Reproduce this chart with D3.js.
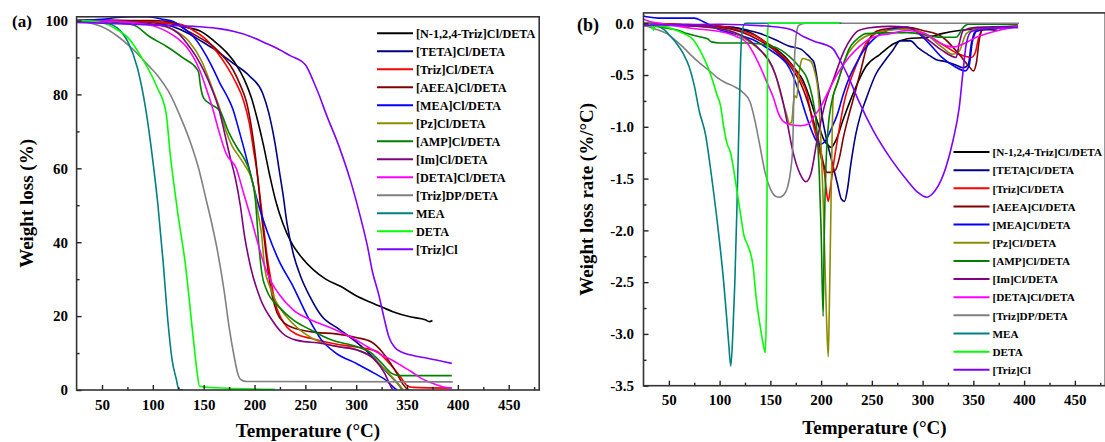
<!DOCTYPE html>
<html>
<head>
<meta charset="utf-8">
<script src="https://cdn.jsdelivr.net/npm/d3@7"></script>
<style>
    body { margin: 0; background: #fff; }
    text { font-family: "Liberation Serif", "Times New Roman", serif; font-weight: bold; fill: #000; }
</style>
</head>
<body>
<svg id="canvas" width="1105" height="442"></svg>
<script>
// Legend names, in drawing order.
const SERIES = ["[N-1,2,4-Triz]Cl/DETA", "[TETA]Cl/DETA", "[Triz]Cl/DETA", "[AEEA]Cl/DETA",
    "[MEA]Cl/DETA", "[Pz]Cl/DETA", "[AMP]Cl/DETA", "[Im]Cl/DETA", "[DETA]Cl/DETA",
    "[Triz]DP/DETA", "MEA", "DETA", "[Triz]Cl"];

// Tick values.
const X_TICKS = [50, 100, 150, 200, 250, 300, 350, 400, 450];
const X_MINOR = [75, 125, 175, 225, 275, 325, 375, 425, 475];
const TGA_TICKS = [0, 20, 40, 60, 80, 100];
const TGA_MINOR = [10, 30, 50, 70, 90];
const DTG_TICKS = [0, -0.5, -1, -1.5, -2, -2.5, -3, -3.5];
const DTG_MINOR = [-0.25, -0.75, -1.25, -1.75, -2.25, -2.75, -3.25];

// (a) weight loss (%) vs temperature, [T, %].
const tgaNTriz = [[25,100],[60,100],[100,99.6],[120,99],[135,98],[146,97.2],[160,94.5],[172,91.5],[182,88],[190,84],[197,79],[203,73],[209,66],[215,58],[221,51],[228,45],[236,40],[246,36],[258,32.5],[270,30],[285,28],[300,25.5],[318,23.3],[336,21.2],[353,19.8],[368,19],[372,18.5],[375,18.8]];
const tgaTeta = [[25,100],[60,100],[100,99.4],[120,98.3],[135,96.5],[146,94.7],[160,92.3],[179,88.4],[195,85],[208,80.3],[214,75],[220,67],[224,60],[228,53],[232,45],[238,37],[245,31],[255,25],[266,20],[283,16.5],[300,13],[318,8.5],[333,4],[340,2],[345,0.2]];
const tgaTriz = [[25,100],[60,100],[100,99.6],[127,99],[140,97.3],[153,94.7],[163,91.5],[173,87.5],[182,83],[189,78.5],[195,72],[199,65],[203,58],[206,51],[209,44],[212,37],[216,30],[220,24],[226,19.5],[232,17],[242,15],[255,14],[270,13],[290,12],[310,11.2],[320,10.5],[330,8],[338,5.5],[345,3],[350,1.2],[356,0.7],[394,0.5]];
const tgaAeea = [[25,100],[60,100],[100,100],[120,99.5],[133,97.4],[145,95.5],[160,92.9],[170,90],[179,86.6],[186,82.5],[192,78],[197,71],[201,63],[204,55],[207,47],[210,40],[213,33],[217,26],[222,21],[230,18],[242,16.5],[260,15.6],[280,15.2],[300,14.2],[315,13],[325,10.5],[333,7.5],[340,4.5],[345,2],[350,0.3],[352,0]];
const tgaMea = [[25,100],[50,100.3],[65,100.8],[80,101],[95,101],[110,100.3],[120,99.7],[130,97.9],[140,95.6],[147,93],[153,90.2],[160,86.5],[166,83],[173,79.5],[179,75.8],[184,71],[189,66],[196,58.5],[203,51],[213,42.5],[224,35],[238,28],[252,20],[266,13.5],[280,10],[300,7.2],[318,4.5],[330,2.5],[336,0.9],[340,0]];
const tgaPz = [[25,100],[60,99.8],[100,99],[120,97.5],[135,94.5],[148,89],[158,82],[166,76],[172,70],[178,66],[184,63.5],[190,61],[196,58],[200,54],[204,47],[207,42],[210,33],[215,28],[221,24],[231,20],[248,15.5],[266,12.8],[283,11.7],[301,10.8],[318,8.3],[332,4.5],[340,2],[346,0.2]];
const tgaAmp = [[25,100],[50,99.8],[65,99.4],[81,98.8],[97,95.6],[114,92.9],[130,89.8],[143,87],[145,86],[147,82],[150,79],[156,77.5],[166,75.5],[175,69.5],[183,65.5],[189,63],[196,58.5],[201,51],[204,40],[207,32],[212,27],[224,22.5],[238,19],[255,16.3],[276,13.5],[301,11.7],[315,10],[325,7.3],[335,4.5],[342,3.9],[394,3.9]];
const tgaIm = [[25,100],[60,99.8],[100,99],[114,98.3],[125,96.5],[133,94],[142,90.5],[150,86.5],[158,81.5],[165,76],[171,69],[176,63],[181,57.5],[186,50],[190,42],[196,33.5],[206,24.5],[217,19],[227,15.5],[241,13.5],[266,12.6],[283,11.7],[301,10.8],[318,8.3],[328,4.5],[334,1],[336,0]];
const tgaDeta = [[25,100],[60,99.8],[97,98.8],[114,97],[125,95],[133,92.9],[140,90],[146,86.6],[152,82],[159,76],[165,70],[172,64],[182,60],[189,53.5],[196,47],[203,40],[210,33.5],[217,29],[224,26],[238,21.7],[255,19],[276,16.7],[294,14.4],[311,11.7],[325,9.5],[336,8],[345,6.5],[354,5],[365,3],[375,1.8],[385,0.9],[394,0.4]];
const tgaTrizDp = [[25,100],[40,99.2],[50,98.3],[65,95.8],[80,92.3],[95,88],[105,85],[115,81],[127,74],[137,67],[145,60],[152,52],[158,45],[164,37],[170,27],[175,17],[180,9],[184,4],[187,2.7],[192,2.3],[395,2.2]];
const tgaMeaPure = [[25,100],[40,99.8],[55,99.3],[65,98],[75,94.5],[85,87],[93,76],[100,62],[105,50],[110,35],[115,18],[119,8],[123,3],[125.5,0.2],[130,0]];
const tgaDetaPure = [[25,100],[40,99.8],[55,99],[65,97.5],[75,95.5],[90,89.5],[104,82],[113,75],[117,64],[121,55],[125,47],[132,34],[139,16],[143,6],[146,1],[160,0.6],[220,0.2]];
const tgaTrizCl = [[25,99.5],[50,99.3],[100,98.8],[146,98.3],[165,97.8],[180,97],[196,95.7],[210,94],[222,92.5],[235,90.5],[250,88],[258,83.5],[264,79.5],[270,75],[283,66],[294,57],[304,47],[311,39],[316,32],[322,26],[327,20],[332,14.5],[338,11.5],[345,10.2],[355,9.4],[370,8.6],[394,7.2]];

// (b) weight loss rate (%/°C) vs temperature, [T, rate].
const dtgNTriz = [[25,-0.02],[60,-0.02],[100,-0.03],[114,-0.04],[130,-0.09],[148,-0.2],[157,-0.26],[165,-0.33],[175,-0.45],[182,-0.55],[188,-0.7],[193,-0.85],[198,-1.0],[203,-1.13],[207,-1.18],[210,-1.2],[213,-1.16],[216,-1.1],[220,-0.98],[224,-0.87],[229,-0.74],[234,-0.62],[244,-0.42],[258,-0.3],[271,-0.2],[285,-0.15],[305,-0.135],[319,-0.1],[336,-0.07],[353,-0.055],[374,-0.07]];
const dtgTeta = [[25,0],[60,-0.01],[100,-0.03],[125,-0.06],[140,-0.1],[155,-0.16],[168,-0.22],[180,-0.25],[186,-0.3],[190,-0.34],[193,-0.38],[197,-0.6],[201,-0.9],[206,-1.15],[211,-1.35],[216,-1.55],[220,-1.7],[223,-1.72],[226,-1.6],[229,-1.38],[234,-1.08],[239,-0.88],[244,-0.74],[254,-0.49],[263,-0.36],[270,-0.27],[278,-0.17],[288,-0.17],[296,-0.24],[305,-0.3],[313,-0.35],[322,-0.37],[332,-0.4],[340,-0.43],[345,-0.4],[348,-0.2],[352,-0.08],[374,-0.05]];
const dtgTriz = [[25,0],[60,-0.01],[100,-0.03],[120,-0.07],[135,-0.12],[146,-0.19],[160,-0.3],[172,-0.42],[180,-0.55],[186,-0.68],[190,-0.88],[196,-1.13],[200,-1.3],[203,-1.42],[205,-1.6],[207,-1.72],[209,-1.6],[212,-1.38],[217,-1.07],[223,-0.75],[228,-0.58],[234,-0.42],[244,-0.2],[258,-0.08],[285,-0.05],[302,-0.1],[319,-0.2],[336,-0.3],[348,-0.33],[352,-0.28],[355,-0.15],[359,-0.06],[374,-0.04],[394,-0.03]];
const dtgAeea = [[25,-0.01],[60,-0.02],[100,-0.04],[120,-0.08],[140,-0.17],[155,-0.27],[170,-0.42],[182,-0.63],[190,-0.86],[196,-1.07],[200,-1.25],[203,-1.38],[206,-1.44],[210,-1.44],[214,-1.42],[218,-1.3],[222,-1.1],[227,-0.9],[234,-0.65],[240,-0.42],[244,-0.26],[251,-0.1],[260,-0.06],[285,-0.04],[300,-0.07],[319,-0.13],[336,-0.3],[346,-0.42],[350,-0.46],[353,-0.38],[356,-0.15],[360,-0.05],[394,-0.03]];
const dtgMea = [[25,0.07],[30,0.06],[40,0.05],[60,0.05],[75,0.05],[84,0.015],[97,-0.05],[113,-0.1],[133,-0.16],[150,-0.26],[160,-0.33],[166,-0.39],[172,-0.5],[178,-0.66],[184,-0.85],[190,-1.02],[195,-1.13],[199,-1.17],[204,-1.14],[210,-1.02],[216,-0.88],[222,-0.68],[228,-0.52],[234,-0.4],[242,-0.26],[251,-0.16],[268,-0.06],[285,-0.04],[302,-0.15],[319,-0.33],[332,-0.42],[342,-0.46],[346,-0.4],[349,-0.18],[354,-0.07],[375,-0.04]];
const dtgPz = [[25,-0.01],[60,-0.02],[100,-0.05],[120,-0.12],[135,-0.22],[148,-0.35],[155,-0.5],[162,-0.75],[166,-0.88],[169,-0.97],[171,-0.95],[173,-0.75],[174,-0.7],[176,-0.72],[178,-0.5],[180,-0.38],[182,-0.34],[186,-0.35],[190,-0.37],[194,-0.48],[197,-0.65],[199.5,-1.07],[202,-1.7],[204,-2.4],[205.5,-2.9],[207,-3.22],[208,-2.8],[209.5,-1.9],[211,-1.0],[212,-0.7],[216,-0.58],[223,-0.36],[234,-0.2],[251,-0.1],[285,-0.055],[302,-0.1],[319,-0.23],[330,-0.3],[336,-0.27],[343,-0.1],[353,-0.055],[394,-0.04]];
const dtgAmp = [[25,0],[30,-0.02],[38,-0.03],[50,-0.05],[60,-0.07],[68,-0.1],[80,-0.13],[88,-0.15],[92,-0.18],[100,-0.19],[110,-0.19],[125,-0.19],[140,-0.2],[150,-0.22],[157,-0.24],[165,-0.29],[173,-0.36],[180,-0.44],[186,-0.53],[191,-0.7],[195,-0.95],[198,-1.4],[200,-2.0],[202,-2.83],[203,-2.1],[204.7,-1.4],[207,-1.0],[210,-0.78],[216,-0.58],[222,-0.4],[227,-0.26],[237,-0.14],[244,-0.1],[285,-0.09],[319,-0.135],[333,-0.135],[340,-0.04],[345,-0.01],[394,-0.01]];
const dtgIm = [[25,-0.01],[60,-0.02],[100,-0.05],[115,-0.09],[130,-0.17],[142,-0.28],[152,-0.42],[162,-0.74],[167,-0.98],[172,-1.23],[179,-1.45],[185,-1.53],[190,-1.45],[196,-1.13],[203,-0.81],[213,-0.52],[223,-0.26],[230,-0.14],[237,-0.07],[251,-0.04],[268,-0.03],[285,-0.04],[302,-0.135],[319,-0.26],[333,-0.33],[336,-0.2],[340,-0.07],[353,-0.04],[394,-0.03]];
const dtgDeta = [[25,0.04],[30,0.02],[41,0],[60,-0.03],[74,-0.05],[100,-0.08],[117,-0.13],[127,-0.19],[134,-0.3],[140,-0.42],[147,-0.58],[153,-0.72],[158,-0.87],[163,-0.95],[170,-0.98],[180,-0.99],[188,-0.97],[193,-0.9],[200,-0.8],[206,-0.68],[216,-0.49],[225,-0.36],[234,-0.26],[251,-0.135],[268,-0.1],[285,-0.07],[302,-0.1],[319,-0.2],[330,-0.23],[340,-0.2],[353,-0.135],[374,-0.07],[394,-0.03]];
const dtgTrizDp = [[25,-0.02],[28,-0.03],[38,-0.06],[48,-0.1],[56,-0.16],[64,-0.23],[72,-0.31],[81,-0.39],[90,-0.46],[97,-0.52],[105,-0.57],[114,-0.61],[122,-0.66],[130,-0.76],[135,-0.95],[140,-1.2],[145,-1.45],[150,-1.6],[155,-1.67],[159,-1.68],[163,-1.66],[167,-1.58],[170,-1.42],[172,-1.2],[173,-0.75],[174,-0.3],[176,-0.08],[178,-0.02],[185,0],[395,0]];
const dtgMeaPure = [[25,0],[35,-0.01],[45,-0.06],[52,-0.13],[58,-0.2],[64,-0.29],[70,-0.42],[75,-0.6],[80,-0.85],[86,-1.07],[93,-1.55],[99,-2.03],[104,-2.5],[107,-2.85],[109,-3.1],[111,-3.31],[113,-3.0],[115,-2.5],[117,-1.8],[119,-1.0],[120.5,-0.4],[122,-0.1],[125,0],[220,0]];
const dtgDetaPure = [[25,0],[33,-0.02],[35,-0.07],[36,-0.02],[45,-0.03],[55,-0.06],[65,-0.1],[74,-0.16],[81,-0.27],[87,-0.39],[92,-0.52],[97,-0.68],[101,-0.8],[104,-1.0],[107,-1.15],[111,-1.26],[116,-1.55],[121,-1.87],[124,-2.05],[128,-2.15],[133,-2.35],[136,-2.65],[140,-2.93],[143,-3.1],[145,-3.18],[146,-2.8],[146.8,-1.5],[147.3,-0.1],[148,0],[218,0]];
const dtgTrizCl = [[25,-0.02],[100,-0.01],[150,-0.03],[170,-0.06],[183,-0.13],[195,-0.18],[205,-0.21],[212,-0.25],[217,-0.33],[222,-0.42],[227,-0.52],[237,-0.75],[251,-1.03],[268,-1.3],[285,-1.52],[295,-1.63],[304,-1.68],[312,-1.62],[318,-1.52],[323,-1.39],[330,-1.13],[336,-0.82],[340,-0.45],[343,-0.2],[348,-0.08],[360,-0.05],[394,-0.04]];

(function () {

    // Styles.
    const COLORS = ["#000000", "#000080", "#ff0000", "#800000", "#0000ff", "#8c8c00",
        "#008000", "#800080", "#ff00ff", "#808080", "#008080", "#00ff00", "#8000ff"];
    const STROKE_WIDTH = 1.6;

    const tgaData = [tgaNTriz, tgaTeta, tgaTriz, tgaAeea, tgaMea, tgaPz, tgaAmp, tgaIm,
        tgaDeta, tgaTrizDp, tgaMeaPure, tgaDetaPure, tgaTrizCl];
    const dtgData = [dtgNTriz, dtgTeta, dtgTriz, dtgAeea, dtgMea, dtgPz, dtgAmp, dtgIm,
        dtgDeta, dtgTrizDp, dtgMeaPure, dtgDetaPure, dtgTrizCl];

    let svg = d3.select("#canvas");

    /**
     * Draw one panel: frame, ticks, labels, curves and legend.
     */
    function panel(opt) {
        let x = d3.scaleLinear().domain([25, 480]).range([opt.left, opt.right]);
        let y = d3.scaleLinear().domain(opt.yDomain).range([opt.bottom, opt.top]);

        let clipId = "clip-" + opt.id;
        svg.append("clipPath").attr("id", clipId)
            .append("rect")
            .attr("x", opt.left).attr("y", opt.top)
            .attr("width", opt.right - opt.left).attr("height", opt.bottom - opt.top);

        // Curves.
        let line = d3.line()
            .x(d => x(d[0]))
            .y(d => y(d[1]))
            .curve(d3.curveMonotoneX);
        let curves = svg.append("g").attr("clip-path", "url(#" + clipId + ")");
        opt.data.forEach((s, i) => {
            curves.append("path")
                .datum(s)
                .attr("fill", "none")
                .attr("stroke", COLORS[i])
                .attr("stroke-width", STROKE_WIDTH)
                .attr("stroke-linejoin", "round")
                .attr("d", line);
        });

        // Axes with inward ticks.
        svg.append("g")
            .attr("transform", "translate(0, " + opt.bottom + ")")
            .call(d3.axisBottom(x).tickValues(X_TICKS).tickSize(-5).tickPadding(9));
        svg.append("g")
            .attr("transform", "translate(0, " + opt.bottom + ")")
            .call(d3.axisBottom(x).tickValues(X_MINOR).tickSize(-3).tickFormat(""));
        svg.append("g")
            .attr("transform", "translate(" + opt.left + ", 0)")
            .call(d3.axisLeft(y).tickValues(opt.yTicks).tickSize(-5).tickPadding(opt.yPad)
                .tickFormat(opt.yFormat));
        svg.append("g")
            .attr("transform", "translate(" + opt.left + ", 0)")
            .call(d3.axisLeft(y).tickValues(opt.yMinor).tickSize(-3).tickFormat(""));
        svg.selectAll(".domain").remove();
        svg.selectAll(".tick line").attr("stroke", "#222").attr("stroke-width", 1.4);
        svg.selectAll(".tick text")
            .attr("font-size", 15)
            .attr("font-family", "Liberation Serif, Times New Roman, serif")
            .attr("font-weight", "bold")
            .attr("fill", "#000");

        // Frame.
        svg.append("rect")
            .attr("x", opt.left).attr("y", opt.top)
            .attr("width", opt.right - opt.left).attr("height", opt.bottom - opt.top)
            .attr("fill", "none")
            .attr("stroke", "#333")
            .attr("stroke-width", 1.6);

        // Titles.
        svg.append("text")
            .attr("x", (opt.left + opt.right) / 2)
            .attr("y", opt.xTitleY)
            .attr("text-anchor", "middle")
            .attr("font-size", 19)
            .text("Temperature (°C)");
        svg.append("text")
            .attr("transform", "translate(" + opt.yTitleX + ", " + (opt.top + opt.bottom) / 2 + ") rotate(-90)")
            .attr("text-anchor", "middle")
            .attr("font-size", 19)
            .text(opt.yTitle);
        svg.append("text")
            .attr("x", opt.tagX)
            .attr("y", opt.tagY)
            .attr("font-size", opt.tagSize)
            .text(opt.tag);

        // Legend.
        let legend = svg.append("g");
        SERIES.forEach((name, i) => {
            let ly = opt.legendY + i * opt.legendStep;
            legend.append("line")
                .attr("x1", opt.legendX).attr("x2", opt.legendX + 36)
                .attr("y1", ly).attr("y2", ly)
                .attr("stroke", COLORS[i])
                .attr("stroke-width", 2);
            legend.append("text")
                .attr("x", opt.legendX + 39)
                .attr("y", ly + 4.2)
                .attr("font-size", opt.legendFont)
                .text(name);
        });
    }

    panel({
        id: "a", tag: "(a)", tagX: 12, tagY: 27, tagSize: 17,
        left: 76.6, right: 539.2, top: 16.8, bottom: 390,
        yDomain: [0, 101], yTicks: TGA_TICKS, yMinor: TGA_MINOR, yPad: 8.5,
        yFormat: d => d,
        data: tgaData,
        xTitleY: 437, yTitleX: 33, yTitle: "Weight loss (%)",
        legendX: 377, legendY: 33.3, legendStep: 18, legendFont: 12.2
    });

    panel({
        id: "b", tag: "(b)", tagX: 577, tagY: 31, tagSize: 18,
        left: 643.5, right: 1105.3, top: 12.9, bottom: 385.7,
        yDomain: [-3.5, 0.1], yTicks: DTG_TICKS, yMinor: DTG_MINOR, yPad: 9.5,
        yFormat: d => d.toFixed(1),
        data: dtgData,
        xTitleY: 434, yTitleX: 593, yTitle: "Weight loss rate (%/°C)",
        legendX: 953.5, legendY: 152, legendStep: 18.15, legendFont: 11.2
    });

})();
</script>
</body>
</html>
